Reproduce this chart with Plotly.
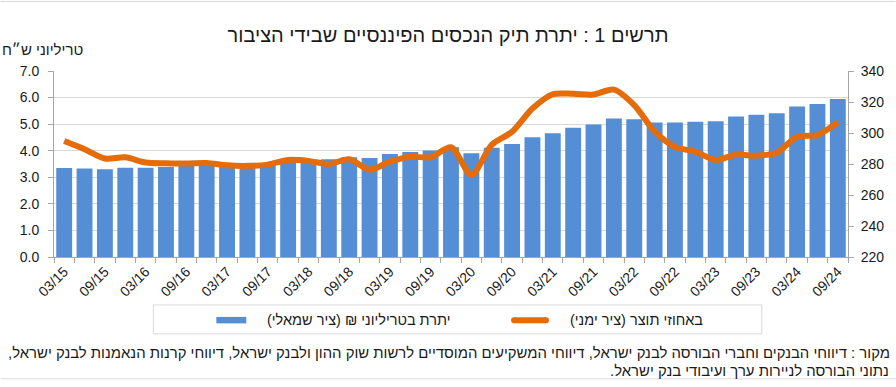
import plotly.graph_objects as go

quarters = []
for yr in range(15, 25):
    for m in ["03", "06", "09", "12"]:
        quarters.append(f"{m}/{yr}")
quarters = quarters[:39]  # 03/15 .. 09/24

balance_trillion = [3.35, 3.33, 3.30, 3.36, 3.36, 3.39, 3.43, 3.45, 3.42, 3.44,
                    3.50, 3.60, 3.65, 3.68, 3.75, 3.73, 3.88, 3.95, 4.01, 4.13,
                    3.90, 4.11, 4.25, 4.51, 4.66, 4.86, 4.99, 5.21, 5.18, 5.06,
                    5.06, 5.09, 5.11, 5.29, 5.35, 5.41, 5.66, 5.76, 5.95]

pct_gdp = [294.8, 289.5, 283.5, 284.3, 281.0, 280.5, 280.3, 280.7, 279.2, 278.8,
           279.6, 282.6, 282.0, 280.0, 283.0, 276.4, 281.5, 284.7, 284.3, 290.8,
           273.0, 292.3, 300.8, 315.8, 325.0, 325.3, 324.8, 328.0, 318.0, 301.0,
           291.0, 288.0, 282.6, 286.0, 285.4, 287.3, 297.6, 298.7, 307.0]

tick_text = [q if q[:2] in ("03", "09") else "" for q in quarters]

RLM = "\u200f"
title_text = "תרשים 1 : יתרת תיק הנכסים הפיננסיים שבידי הציבור" + RLM
left_title = "טריליוני ש״ח" + RLM
bar_name = "יתרת בטריליוני ₪ (ציר שמאלי)" + RLM
line_name = "באחוזי תוצר (ציר ימני)" + RLM
footer1 = "מקור : דיווחי הבנקים וחברי הבורסה לבנק ישראל, דיווחי המשקיעים המוסדיים לרשות שוק ההון ולבנק ישראל, דיווחי קרנות הנאמנות לבנק ישראל," + RLM
footer2 = "נתוני הבורסה לניירות ערך ועיבודי בנק ישראל." + RLM

BAR_COLOR = "#558ED5"
LINE_COLOR = "#E46C0A"
TXT = "#1a1a1a"

W, H = 896, 387
L, R, T, B = 53.5, 47.7, 70.7, 130.0
pw = W - L - R
ph = H - T - B


def px(x):
    return (x - L) / pw


def py(y):
    return (H - B - y) / ph


FONT = "Liberation Sans"

fig = go.Figure()
fig.add_trace(go.Bar(x=quarters, y=balance_trillion, name=bar_name,
                     marker=dict(color=BAR_COLOR, line=dict(width=0)), yaxis="y"))
fig.add_trace(go.Scatter(x=quarters, y=pct_gdp, name=line_name, mode="lines",
                         line=dict(color=LINE_COLOR, width=6, shape="spline", smoothing=0.8),
                         yaxis="y2"))

fig.update_layout(
    width=W, height=H,
    margin=dict(l=L, r=R, t=T, b=B, pad=0),
    paper_bgcolor="white", plot_bgcolor="white",
    font=dict(family=FONT, size=13, color=TXT),
    bargap=0.22,
    showlegend=False,
    xaxis=dict(type="category", tickmode="array", tickvals=quarters, ticktext=tick_text,
               tickangle=-45, tickson="boundaries", ticks="outside", ticklen=5,
               tickcolor="#a6a6a6", showline=True, linecolor="#a6a6a6", linewidth=1,
               showgrid=False, tickfont=dict(size=14, color=TXT),
               range=[-0.5, len(quarters) - 0.5]),
    yaxis=dict(range=[0, 7], dtick=1, tickformat=".1f", showgrid=True, gridcolor="#d9d9d9",
               gridwidth=1, showline=True, linecolor="#a6a6a6", ticks="outside", ticklen=5,
               tickcolor="#a6a6a6", tickfont=dict(size=14, color=TXT), zeroline=False,
               ticklabelstandoff=6),
    yaxis2=dict(range=[220, 340], dtick=20, overlaying="y", side="right", showgrid=False,
                showline=True, linecolor="#a6a6a6", ticks="outside", ticklen=5,
                tickcolor="#a6a6a6", tickfont=dict(size=14, color=TXT), zeroline=False,
                ticklabelstandoff=4),
    title=dict(text=title_text, x=0.5, xref="container", xanchor="center",
               y=1 - 35 / H, yanchor="middle", font=dict(size=20, color=TXT, family=FONT)),
)

fig.add_annotation(text=left_title, xref="paper", yref="paper", x=px(85), y=py(49),
                   xanchor="right", yanchor="middle", showarrow=False,
                   font=dict(size=15, color=TXT))
fig.add_annotation(text=footer1, xref="paper", yref="paper", x=px(892.5), y=py(353),
                   xanchor="right", yanchor="middle", showarrow=False,
                   font=dict(size=14.9, color=TXT))
fig.add_annotation(text=footer2, xref="paper", yref="paper", x=px(891), y=py(371),
                   xanchor="right", yanchor="middle", showarrow=False,
                   font=dict(size=14.9, color=TXT))

# legend (drawn manually to match the original's swatches)
fig.add_shape(type="rect", xref="paper", yref="paper", x0=px(153), x1=px(762),
              y0=py(334), y1=py(305), line=dict(color="#d9d9d9", width=1))
fig.add_shape(type="rect", xref="paper", yref="paper", x0=px(216), x1=px(246),
              y0=py(323.5), y1=py(317), line=dict(width=0), fillcolor=BAR_COLOR)
fig.add_shape(type="line", xref="paper", yref="paper", x0=px(514), x1=px(546),
              y0=py(320.3), y1=py(320.3), line=dict(color=LINE_COLOR, width=6))
fig.add_shape(type="circle", xref="paper", yref="paper", x0=px(511), x1=px(517),
              y0=py(323.3), y1=py(317.3), line=dict(width=0), fillcolor=LINE_COLOR)
fig.add_shape(type="circle", xref="paper", yref="paper", x0=px(543), x1=px(549),
              y0=py(323.3), y1=py(317.3), line=dict(width=0), fillcolor=LINE_COLOR)
fig.add_annotation(text=bar_name, xref="paper", yref="paper", x=px(452), y=py(320),
                   xanchor="right", yanchor="middle", showarrow=False,
                   font=dict(size=14.5, color=TXT))
fig.add_annotation(text=line_name, xref="paper", yref="paper", x=px(705), y=py(320),
                   xanchor="right", yanchor="middle", showarrow=False,
                   font=dict(size=14.5, color=TXT))

# outer thin lines
fig.add_shape(type="line", xref="paper", yref="paper", x0=px(0), x1=px(896),
              y0=py(1), y1=py(1), line=dict(color="#d9d9d9", width=1))
fig.add_shape(type="line", xref="paper", yref="paper", x0=px(0), x1=px(896),
              y0=py(379), y1=py(379), line=dict(color="#d9d9d9", width=1))

fig.write_html("out.html", config={"displayModeBar": False},
               post_script="document.body.style.margin='0';")
